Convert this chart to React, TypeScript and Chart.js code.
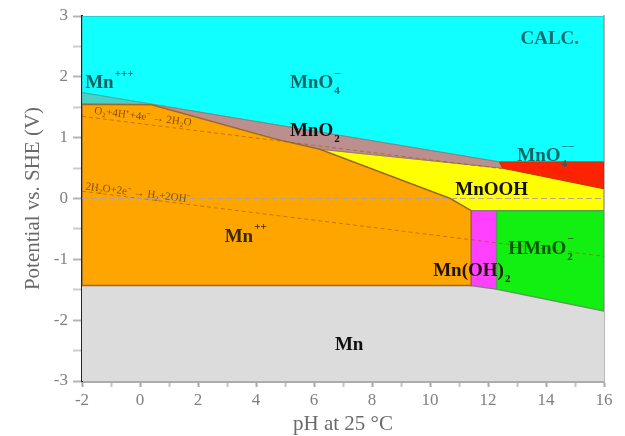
import React, { useEffect, useRef } from "react";
import { Chart, registerables } from "chart.js";

Chart.register(...registerables);

type P = [number, number]; // [pH, E (V vs SHE)]

// Stability fields of the Mn–H2O system
const permanganateField: P[] = [[-2, 3], [16, 3], [16, 0.6], [12.4, 0.6], [-2, 1.74], [-2, 3]];
const manganicField: P[] = [[-2, 1.74], [0.4, 1.55], [-2, 1.55], [-2, 1.74]];
const dioxideField: P[] = [[0.4, 1.55], [12.4, 0.6], [12.5, 0.5], [6.2, 0.81], [4.65, 0.98], [0.4, 1.54], [0.4, 1.55]];
const manganousField: P[] = [[-2, 1.55], [0.4, 1.54], [4.65, 0.98], [6.2, 0.81], [10.7, 0], [11.42, -0.2], [11.42, -1.43], [-2, -1.43], [-2, 1.55]];
const oxyhydroxideField: P[] = [[6.2, 0.81], [12.5, 0.5], [16, 0.16], [16, -0.2], [11.42, -0.2], [10.7, 0], [6.2, 0.81]];
const manganateField: P[] = [[12.4, 0.6], [16, 0.6], [16, 0.16], [12.5, 0.5], [12.4, 0.6]];
const hydroxideField: P[] = [[11.42, -0.2], [12.3, -0.2], [12.3, -1.49], [11.42, -1.43], [11.42, -0.2]];
const hypomanganiteField: P[] = [[12.3, -0.2], [16, -0.2], [16, -1.85], [12.3, -1.49], [12.3, -0.2]];
const metalField: P[] = [[-2, -1.43], [11.42, -1.43], [12.3, -1.49], [16, -1.85], [16, -3], [-2, -3], [-2, -1.43]];

// Water stability limits and the 0 V reference
const oxygenLine: P[] = [[-2, 1.35], [16, 0.28]];
const hydrogenLine: P[] = [[-2, 0.12], [16, -0.95]];
const zeroLine: P[] = [[-2, 0], [16, 0]];

// Axis ticks
const pHTicks = [-2, -1, 0, 1, 2, 3, 4, 5, 6, 7, 8, 9, 10, 11, 12, 13, 14, 15, 16];
const pHLabels = [-2, 0, 2, 4, 6, 8, 10, 12, 14, 16];
const eTicks = [-3, -2.5, -2, -1.5, -1, -0.5, 0, 0.5, 1, 1.5, 2, 2.5, 3];
const eLabels = [-3, -2, -1, 0, 1, 2, 3];

const SERIF = '"Liberation Serif", "Times New Roman", serif';

type Part = { t?: string; sub?: string; sup?: string };
type FieldLabel = { pH: number; E: number; parts: Part[]; color: string; size: number };

const fieldLabels: FieldLabel[] = [
  { pH: 13.12, E: 2.62, parts: [{ t: "CALC." }], color: "#0f6e6e", size: 19 },
  { pH: -1.89, E: 1.89, parts: [{ t: "Mn" }, { sup: "+++" }], color: "#0f6060", size: 19 },
  { pH: 5.17, E: 1.89, parts: [{ t: "MnO" }, { sub: "4", sup: "−" }], color: "#0f6666", size: 19 },
  { pH: 5.17, E: 1.1, parts: [{ t: "MnO" }, { sub: "2" }], color: "#101010", size: 19 },
  { pH: 13.01, E: 0.69, parts: [{ t: "MnO" }, { sub: "4", sup: "−−" }], color: "#0f6666", size: 19 },
  { pH: 10.87, E: 0.13, parts: [{ t: "MnOOH" }], color: "#101010", size: 19 },
  { pH: 2.92, E: -0.63, parts: [{ t: "Mn" }, { sup: "++" }], color: "#3a2800", size: 19 },
  { pH: 12.7, E: -0.83, parts: [{ t: "HMnO" }, { sub: "2", sup: "−" }], color: "#005a00", size: 19 },
  { pH: 10.11, E: -1.19, parts: [{ t: "Mn(OH)" }, { sub: "2" }], color: "#201408", size: 19 },
  { pH: 6.72, E: -2.41, parts: [{ t: "Mn" }], color: "#101010", size: 19 },
];

const lineLabels = [
  { line: oxygenLine, pH: -1.6, lift: 7, text: "O₂+4H⁺+4e⁻ → 2H₂O" },
  { line: hydrogenLine, pH: -1.9, lift: 5, text: "2H₂O+2e⁻ → H₂+2OH⁻" },
];

const labelPlugin = {
  id: "fieldLabels",
  afterDatasetsDraw(chart: any) {
    const { ctx } = chart;
    const x = chart.scales.x;
    const y = chart.scales.y;
    ctx.save();
    ctx.textBaseline = "middle";
    ctx.textAlign = "left";

    for (const lab of lineLabels) {
      const [a, b] = lab.line;
      const x0 = x.getPixelForValue(a[0]);
      const y0 = y.getPixelForValue(a[1]);
      const x1 = x.getPixelForValue(b[0]);
      const y1 = y.getPixelForValue(b[1]);
      const ang = Math.atan2(y1 - y0, x1 - x0);
      const t = (lab.pH - a[0]) / (b[0] - a[0]);
      const px = x0 + (x1 - x0) * t;
      const py = y0 + (y1 - y0) * t;
      ctx.save();
      ctx.translate(px, py);
      ctx.rotate(ang);
      ctx.font = `11px ${SERIF}`;
      ctx.fillStyle = "rgba(100,55,0,0.8)";
      ctx.fillText(lab.text, 0, -lab.lift);
      ctx.restore();
    }

    for (const lab of fieldLabels) {
      let px = x.getPixelForValue(lab.pH);
      const py = y.getPixelForValue(lab.E);
      ctx.fillStyle = lab.color;
      for (const part of lab.parts) {
        if (part.t) {
          ctx.font = `bold ${lab.size}px ${SERIF}`;
          ctx.fillText(part.t, px, py);
          px += ctx.measureText(part.t).width + 1;
        } else {
          const small = Math.round(lab.size * 0.58);
          ctx.font = `bold ${small}px ${SERIF}`;
          let w = 0;
          if (part.sub) {
            ctx.fillText(part.sub, px, py + lab.size * 0.42);
            w = Math.max(w, ctx.measureText(part.sub).width);
          }
          if (part.sup) {
            ctx.fillText(part.sup, px, py - lab.size * 0.5);
            w = Math.max(w, ctx.measureText(part.sup).width);
          }
          px += w;
        }
      }
    }
    ctx.restore();
  },
};

const toXY = (pts: P[]) => pts.map(([pH, E]) => ({ x: pH, y: E }));

function field(label: string, pts: P[], bg: string, border: string, width: number) {
  return {
    label,
    data: toXY(pts),
    showLine: true,
    fill: "shape",
    backgroundColor: bg,
    borderColor: border,
    borderWidth: width,
    pointRadius: 0,
    tension: 0,
  };
}

function guide(label: string, pts: P[], color: string, dash: number[], width: number) {
  return {
    label,
    data: toXY(pts),
    showLine: true,
    fill: false,
    borderColor: color,
    borderDash: dash,
    borderWidth: width,
    pointRadius: 0,
  };
}

export default function App() {
  const ref = useRef<HTMLCanvasElement | null>(null);

  useEffect(() => {
    if (!ref.current) return;
    const chart = new Chart(ref.current, {
      type: "scatter",
      data: {
        datasets: [
          guide("0 V", zeroLine, "rgba(175,160,160,0.9)", [6, 3], 1.2),
          guide("H2", hydrogenLine, "rgba(150,80,0,0.55)", [4, 3], 1),
          guide("O2", oxygenLine, "rgba(150,80,0,0.55)", [4, 3], 1),
          field("Mn2+", manganousField, "#ffa500", "#9a6a2a", 1.5),
          field("HMnO2-", hypomanganiteField, "#11f011", "#5a9a5a", 1.5),
          field("Mn(OH)2", hydroxideField, "#ff40ff", "#8a7a8a", 1.5),
          field("MnO4--", manganateField, "#ff2200", "#c83000", 1),
          field("MnO2", dioxideField, "#bc8f8f", "#9a7a7a", 1),
          field("MnOOH", oxyhydroxideField, "#ffff00", "#c8b000", 1),
          field("Mn3+", manganicField, "#48d1c4", "#40b0a8", 1),
          field("MnO4-", permanganateField, "#10ffff", "#2cc4c4", 1.5),
          field("Mn", metalField, "#dcdcdc", "#dcdcdc", 0),
        ] as any,
      },
      options: {
        responsive: false,
        animation: false,
        layout: { padding: { top: 16, left: 0, right: 0, bottom: 0 } },
        plugins: { legend: { display: false }, tooltip: { enabled: false } },
        scales: {
          x: {
            type: "linear",
            min: -2,
            max: 16,
            afterBuildTicks: (s: any) => {
              s.ticks = pHTicks.map((v) => ({ value: v }));
            },
            afterFit: (s: any) => {
              s.height = 55;
            },
            ticks: {
              autoSkip: false,
              maxRotation: 0,
              padding: 3,
              color: "#808080",
              font: { family: SERIF, size: 17 },
              callback: (v: any) => (pHLabels.includes(Number(v)) ? String(v) : ""),
            },
            grid: {
              drawOnChartArea: false,
              tickLength: 6,
              tickColor: (c: any) => (pHLabels.includes(c.tick?.value) ? "#a8a8a8" : "#c4c4c4"),
              tickWidth: 2,
            },
            border: { color: "#acacac", width: 3 },
            title: {
              display: true,
              text: "pH at 25 °C",
              color: "#6a6a6a",
              font: { family: SERIF, size: 21, lineHeight: 1.05 },
              padding: { top: 0, bottom: 0 },
            },
          },
          y: {
            type: "linear",
            min: -3,
            max: 3,
            afterBuildTicks: (s: any) => {
              s.ticks = eTicks.map((v) => ({ value: v }));
            },
            afterFit: (s: any) => {
              s.width = 82;
            },
            ticks: {
              autoSkip: false,
              padding: 5,
              color: "#808080",
              font: { family: SERIF, size: 17 },
              callback: (v: any) => (eLabels.includes(Number(v)) ? String(v) : ""),
            },
            grid: {
              drawOnChartArea: false,
              tickLength: 9,
              tickColor: (c: any) => (eLabels.includes(c.tick?.value) ? "#b4b4b4" : "#cccccc"),
              tickWidth: 2,
            },
            border: { color: "#252525", width: 2 },
            title: {
              display: true,
              text: "Potential vs. SHE (V)",
              color: "#6a6a6a",
              font: { family: SERIF, size: 21, lineHeight: 1.1 },
              padding: { top: 22, bottom: 0 },
            },
          },
          y2: {
            type: "linear",
            position: "right",
            min: -3,
            max: 3,
            afterFit: (s: any) => {
              s.width = 21;
            },
            ticks: { display: false },
            grid: { drawOnChartArea: false, drawTicks: false },
            border: { color: "#b8b8b8", width: 2 },
          },
        },
      } as any,
      plugins: [labelPlugin],
    });
    return () => chart.destroy();
  }, []);

  return (
    <div style={{ position: "fixed", left: 0, top: 0, width: 625, height: 436, background: "#fff" }}>
      <canvas ref={ref} width={625} height={436} />
    </div>
  );
}
